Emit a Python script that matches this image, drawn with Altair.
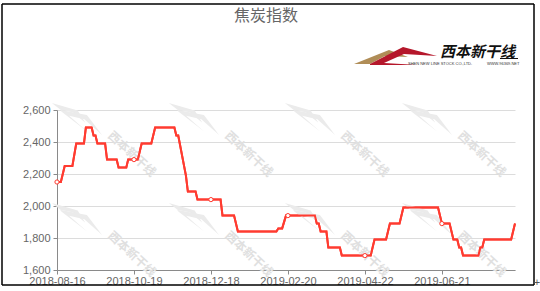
import altair as alt
import pandas as pd

# ---------------- data ----------------
title_text = "焦炭指数"
logo_text = "西本新干线"
logo_sub_left = "SHEN NEW LINE STOCK CO.,LTD."
logo_sub_right = "WWW.96369.NET"

tick_labels = ["2018-08-16", "2018-10-19", "2018-12-18", "2019-02-20", "2019-04-22", "2019-06-21"]
tick_step = 40  # trading days between labelled dates

day_index = [0, 2, 4, 8, 10, 14, 15, 18, 19, 20, 21, 25, 26, 31, 32, 36, 37, 40, 42, 44,
             49, 51, 61, 62, 63, 67, 68, 72, 73, 80, 85, 86, 92, 94, 114, 115, 117, 119, 120, 134,
             135, 136, 137, 140, 141, 147, 148, 160, 163, 165, 171, 173, 178, 180, 198, 200, 204, 206, 208, 209,
             210, 211, 219, 220, 221, 222, 236, 238]
index_value = [2150, 2150, 2250, 2250, 2390, 2390, 2490, 2490, 2440, 2440, 2390, 2390, 2290, 2290, 2240, 2240, 2290, 2290, 2290, 2390,
               2390, 2490, 2490, 2440, 2440, 2190, 2090, 2090, 2040, 2040, 2040, 1940, 1940, 1840, 1840, 1860, 1860, 1940, 1940, 1940,
               1890, 1890, 1840, 1840, 1740, 1740, 1690, 1690, 1690, 1790, 1790, 1890, 1890, 1990, 1990, 1890, 1890, 1790, 1790, 1740,
               1740, 1690, 1690, 1740, 1740, 1790, 1790, 1890]
y_ticks = [1600, 1800, 2000, 2200, 2400, 2600]

df = pd.DataFrame({"idx": day_index, "val": index_value})
one = pd.DataFrame({"a": [0]})

# ---------------- layout ----------------
PL, PT = 57, 110          # plot origin in page pixels
W, H = 458, 160
LINE_RED = "#ff3b30"
AX = "#8a8a8a"
LBL = "#666666"
FONT = "Liberation Sans"
CJK = "Noto Sans CJK SC"

label_arr = "[" + ",".join("'" + t + "'" for t in tick_labels) + "]"

x_enc = alt.X("idx:Q",
              scale=alt.Scale(domain=[0, max(day_index)], nice=False, zero=False),
              axis=alt.Axis(values=[i * tick_step for i in range(len(tick_labels))],
                            labelExpr=f"{label_arr}[round(datum.value/{tick_step})]",
                            title=None, grid=False, domainColor=AX, tickColor=AX,
                            tickSize=4, labelColor=LBL, labelFont=FONT, labelFontSize=11,
                            labelPadding=1, labelFlush=False, labelOverlap=False))
y_enc = alt.Y("val:Q",
              scale=alt.Scale(domain=[y_ticks[0], y_ticks[-1]], nice=False, zero=False),
              axis=alt.Axis(values=y_ticks, tickCount=len(y_ticks), format=",.0f", title=None, grid=True,
                            gridColor="#dcdcdc", domainColor=AX, tickColor=AX, tickSize=4,
                            labelColor=LBL, labelFont=FONT, labelFontSize=11, labelPadding=3,
                            labelOverlap=False, labelFlush=False))


def path(points, cx, cy, half):
    s = []
    for k, (px, py) in enumerate(points):
        u = (px - cx) / half
        v = (py - cy) / half
        s.append(("M" if k == 0 else "L") + f"{u:.3f},{v:.3f}")
    return " ".join(s) + " Z"


LCX, LCY, LH = 396, 56, 42
gold_path = path([(354, 64), (389, 50), (408, 57), (385, 56), (370, 64)], LCX, LCY, LH)
red_path = path([(370, 64), (403, 47), (437, 56), (404, 54), (384, 63), (418, 65), (370, 65)], LCX, LCY, LH)

layers = []

line = alt.Chart(df).mark_line(color=LINE_RED, strokeWidth=2).encode(x=x_enc, y=y_enc)
layers.append(line)

# watermarks (faint, behind the line)
wm_x = [15, 132, 249, 365, 482]
wm_y = [154, 254]
for wy in wm_y:
    for wx in wm_x:
        for pth in (gold_path, red_path):
            layers.append(alt.Chart(one).mark_point(shape=pth, filled=True, fill="#ebebeb",
                                                    strokeWidth=0, angle=38, opacity=1)
                          .encode(x=alt.value(wx - 53 - PL), y=alt.value(wy - 37 - PT),
                                  size=alt.value(3600)))
        if wx > 40:
            layers.append(alt.Chart(one).mark_text(text=logo_text, font=CJK, fontSize=12,
                                                   fontWeight="bold", angle=43, color="#e0e0e0",
                                                   align="center", baseline="middle")
                          .encode(x=alt.value(wx - PL), y=alt.value(wy - PT)))

line_top = alt.Chart(df).mark_line(color=LINE_RED, strokeWidth=2).encode(x=x_enc, y=y_enc)
pts = (alt.Chart(df).transform_filter(f"datum.idx % {tick_step} == 0")
       .mark_point(filled=True, fill="white", stroke=LINE_RED, strokeWidth=1, size=18, opacity=1)
       .encode(x=x_enc, y=y_enc))
layers += [line_top, pts]

# title
layers.append(alt.Chart(one).mark_text(text=title_text, font=CJK, fontSize=16, color="#666666",
                                       align="center", baseline="middle")
              .encode(x=alt.value(266 - PL), y=alt.value(16 - PT)))

# logo
layers.append(alt.Chart(one).mark_point(shape=gold_path, filled=True, fill="#b08d57", strokeWidth=0, opacity=1)
              .encode(x=alt.value(LCX - PL), y=alt.value(LCY - PT), size=alt.value((2 * LH) ** 2)))
layers.append(alt.Chart(one).mark_point(shape=red_path, filled=True, fill="#b5172b", strokeWidth=0, opacity=1)
              .encode(x=alt.value(LCX - PL), y=alt.value(LCY - PT), size=alt.value((2 * LH) ** 2)))
layers.append(alt.Chart(one).mark_text(text=logo_text, font=CJK, fontSize=15, fontWeight="bold",
                                       fontStyle="italic", color="#111111", align="left", baseline="middle")
              .encode(x=alt.value(440 - PL), y=alt.value(52 - PT)))
layers.append(alt.Chart(one).mark_rule(color="#111111", strokeWidth=1)
              .encode(x=alt.value(500 - PL), x2=alt.value(518 - PL), y=alt.value(58.5 - PT)))
layers.append(alt.Chart(one).mark_text(text=logo_sub_left, font=FONT, fontSize=4, color="#333333",
                                       align="left", baseline="middle")
              .encode(x=alt.value(408 - PL), y=alt.value(63.5 - PT)))
layers.append(alt.Chart(one).mark_text(text=logo_sub_right, font=FONT, fontSize=4, color="#333333",
                                       align="left", baseline="middle")
              .encode(x=alt.value(487 - PL), y=alt.value(63.5 - PT)))

# outer frame
FL, FT, FR, FB = 2, 4, 534, 285
frame = dict(color="#000000", strokeWidth=1.5)
layers.append(alt.Chart(one).mark_rule(**frame).encode(x=alt.value(FL - PL), y=alt.value(FT - PT), y2=alt.value(FB - PT)))
layers.append(alt.Chart(one).mark_rule(**frame).encode(x=alt.value(FR - PL), y=alt.value(FT - PT), y2=alt.value(FB - PT)))
layers.append(alt.Chart(one).mark_rule(**frame).encode(x=alt.value(FL - PL), x2=alt.value(FR - PL), y=alt.value(FT - PT)))
layers.append(alt.Chart(one).mark_rule(**frame).encode(x=alt.value(FL - PL), x2=alt.value(FR - PL), y=alt.value(FB - PT)))
layers.append(alt.Chart(one).mark_text(text="+", font=FONT, fontSize=11, color="#555555",
                                       align="center", baseline="middle")
              .encode(x=alt.value(537 - PL), y=alt.value(283 - PT)))

chart = (alt.layer(*layers)
         .properties(width=W, height=H,
                     padding={"left": PL, "top": PT, "right": 540 - PL - W, "bottom": 291 - PT - H},
                     autosize=alt.AutoSizeParams(type="none"),
                     background="white")
         .configure_view(stroke=None))

chart.save("out.html", embed_options={"renderer": "svg", "actions": False})
